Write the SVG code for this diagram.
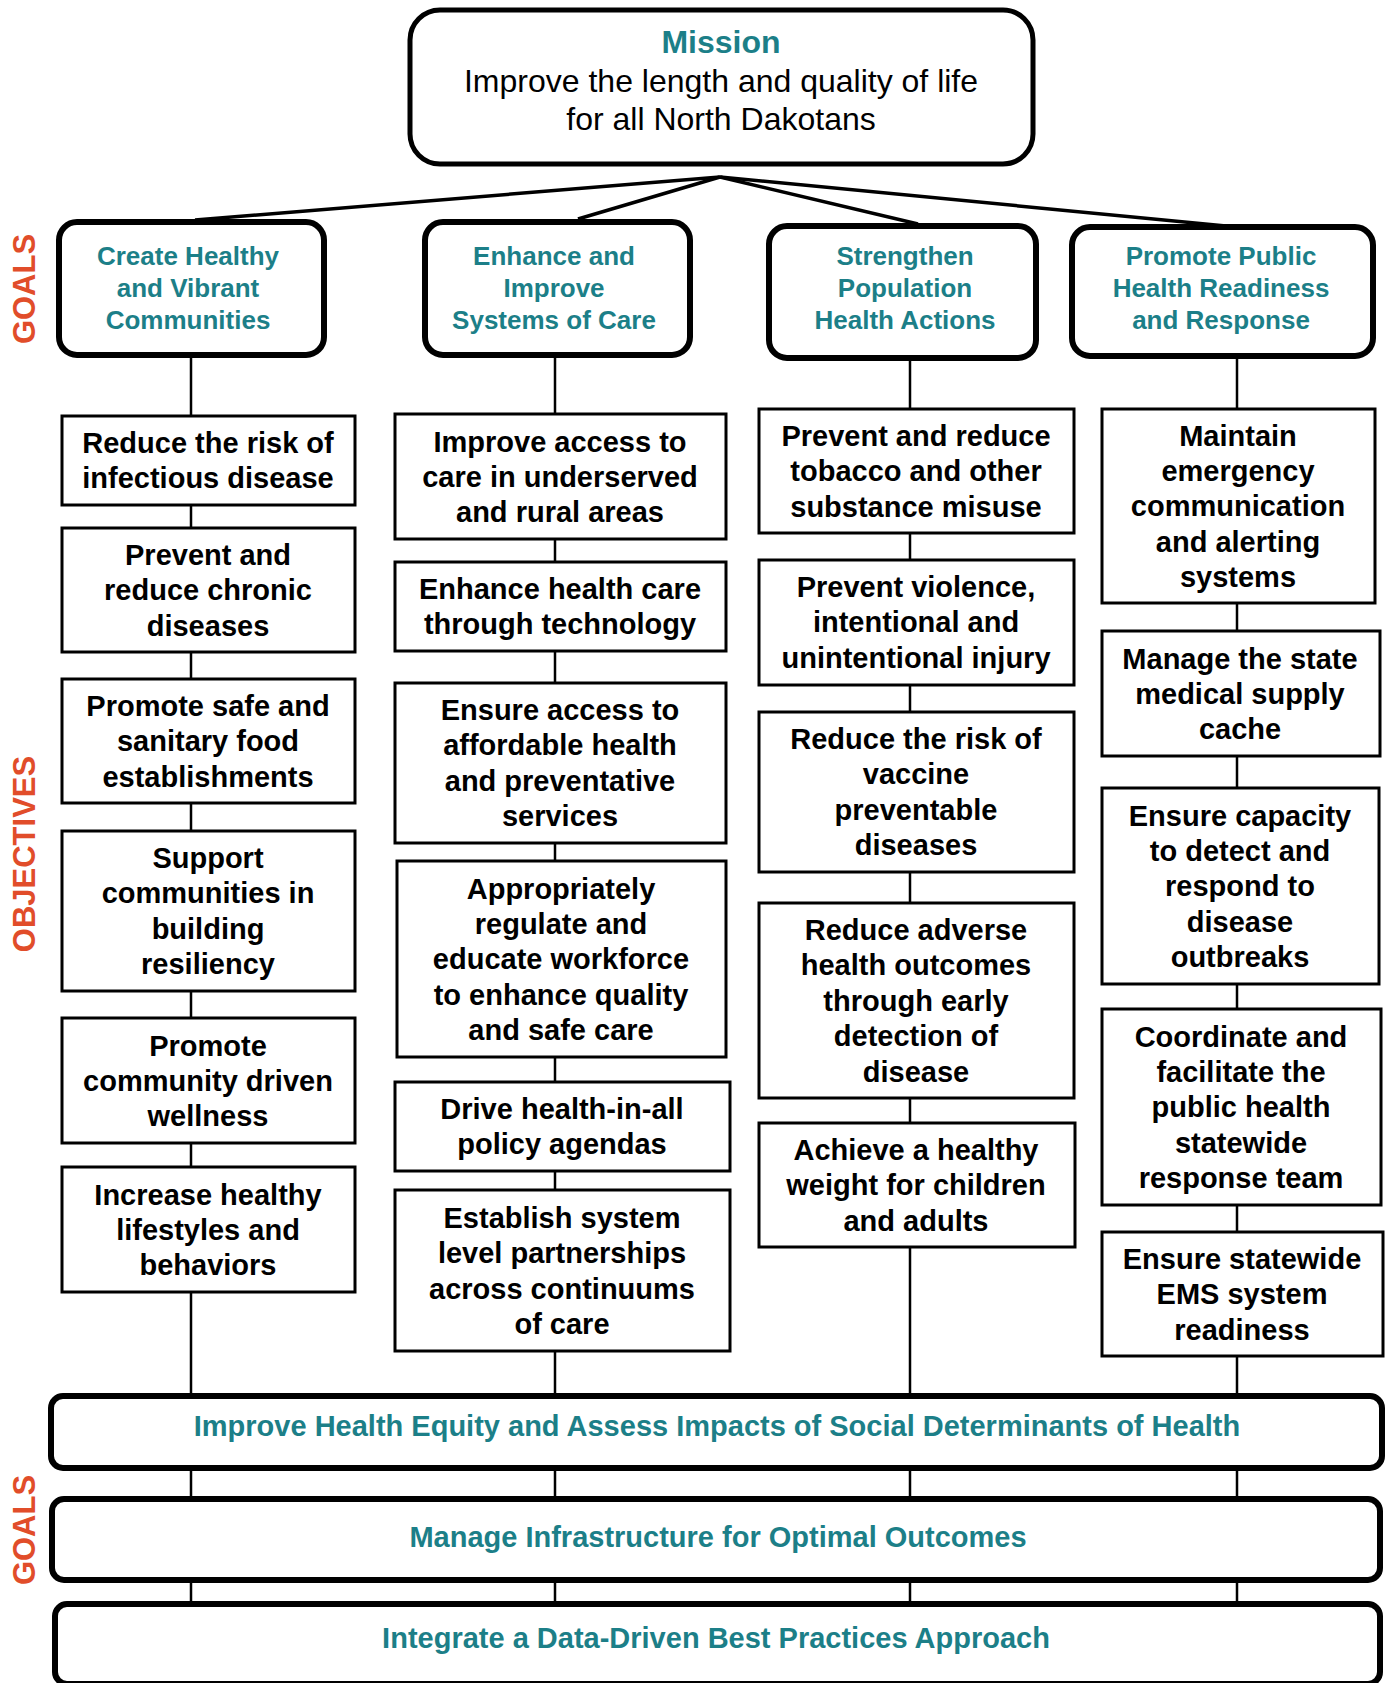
<svg xmlns="http://www.w3.org/2000/svg" width="1388" height="1683" viewBox="0 0 1388 1683">
<style>
  .conn { stroke: #000; stroke-width: 2.5; fill: none; }
  .mconn { stroke: #000; stroke-width: 3.5; fill: none; }
  .goal { fill: #fff; stroke: #000; stroke-width: 6; }
  .obj { fill: #fff; stroke: #000; stroke-width: 3; }
  .mission { fill: #fff; stroke: #000; stroke-width: 5; }
  .ot { font-family: "Liberation Sans", Arial, sans-serif; font-weight: bold; font-size: 29px; fill: #000; text-anchor: middle; }
  .gt { font-family: "Liberation Sans", Arial, sans-serif; font-weight: bold; font-size: 26px; fill: #1C7F88; text-anchor: middle; }
  .bt { font-family: "Liberation Sans", Arial, sans-serif; font-weight: bold; font-size: 29px; fill: #1C7F88; text-anchor: middle; }
  .side { font-family: "Liberation Sans", Arial, sans-serif; font-weight: bold; font-size: 31px; fill: #E14D2A; text-anchor: middle; }
  .mt { font-family: "Liberation Sans", Arial, sans-serif; font-size: 32px; fill: #000; text-anchor: middle; }
  .mh { font-family: "Liberation Sans", Arial, sans-serif; font-weight: bold; font-size: 32px; fill: #1C7F88; text-anchor: middle; }
</style>
<rect width="1388" height="1683" fill="#fff"/>

<g id="connectors">
  <line class="mconn" x1="720" y1="177" x2="195" y2="220"/>
  <line class="mconn" x1="720" y1="177" x2="578" y2="219"/>
  <line class="mconn" x1="720" y1="177" x2="918" y2="224"/>
  <line class="mconn" x1="720" y1="177" x2="1226" y2="226"/>
  <line class="conn" x1="191" y1="357" x2="191" y2="1604"/>
  <line class="conn" x1="555" y1="357" x2="555" y2="1604"/>
  <line class="conn" x1="910" y1="360" x2="910" y2="1604"/>
  <line class="conn" x1="1237" y1="358" x2="1237" y2="1604"/>
</g>

<g id="label-goals-top"><text class="side" transform="translate(35,289) rotate(-90)">GOALS</text></g>
<g id="label-objectives"><text class="side" transform="translate(35,854) rotate(-90)">OBJECTIVES</text></g>
<g id="label-goals-bottom"><text class="side" transform="translate(35,1530) rotate(-90)">GOALS</text></g>

<g id="mission">
  <rect class="mission" x="410" y="10" width="623" height="154" rx="30"/>
  <text class="mh" x="721" y="53">Mission</text>
  <text class="mt" x="721" y="92">Improve the length and quality of life</text>
  <text class="mt" x="721" y="130">for all North Dakotans</text>
</g>

<g id="goal-1">
  <rect class="goal" x="59" y="222" width="265" height="133" rx="18"/>
  <text class="gt" x="188" y="265"><tspan x="188">Create Healthy</tspan><tspan x="188" dy="32">and Vibrant</tspan><tspan x="188" dy="32">Communities</tspan></text>
</g>
<g id="goal-2">
  <rect class="goal" x="425" y="222" width="265" height="133" rx="18"/>
  <text class="gt" x="554" y="265"><tspan x="554">Enhance and</tspan><tspan x="554" dy="32">Improve</tspan><tspan x="554" dy="32">Systems of Care</tspan></text>
</g>
<g id="goal-3">
  <rect class="goal" x="769" y="226" width="267" height="132" rx="18"/>
  <text class="gt" x="905" y="265"><tspan x="905">Strengthen</tspan><tspan x="905" dy="32">Population</tspan><tspan x="905" dy="32">Health Actions</tspan></text>
</g>
<g id="goal-4">
  <rect class="goal" x="1072" y="227" width="301" height="129" rx="18"/>
  <text class="gt" x="1221" y="265"><tspan x="1221">Promote Public</tspan><tspan x="1221" dy="32">Health Readiness</tspan><tspan x="1221" dy="32">and Response</tspan></text>
</g>

<!-- Column 1 -->
<g id="obj-1-1"><rect class="obj" x="62" y="416" width="293" height="89"/>
  <text class="ot" y="453"><tspan x="208">Reduce the risk of</tspan><tspan x="208" dy="35.4">infectious disease</tspan></text></g>
<g id="obj-1-2"><rect class="obj" x="62" y="528" width="293" height="124"/>
  <text class="ot" y="565"><tspan x="208">Prevent and</tspan><tspan x="208" dy="35.4">reduce chronic</tspan><tspan x="208" dy="35.4">diseases</tspan></text></g>
<g id="obj-1-3"><rect class="obj" x="62" y="679" width="293" height="124"/>
  <text class="ot" y="716"><tspan x="208">Promote safe and</tspan><tspan x="208" dy="35.4">sanitary food</tspan><tspan x="208" dy="35.4">establishments</tspan></text></g>
<g id="obj-1-4"><rect class="obj" x="62" y="831" width="293" height="160"/>
  <text class="ot" y="868"><tspan x="208">Support</tspan><tspan x="208" dy="35.4">communities in</tspan><tspan x="208" dy="35.4">building</tspan><tspan x="208" dy="35.4">resiliency</tspan></text></g>
<g id="obj-1-5"><rect class="obj" x="62" y="1018" width="293" height="125"/>
  <text class="ot" y="1055.5"><tspan x="208">Promote</tspan><tspan x="208" dy="35.4">community driven</tspan><tspan x="208" dy="35.4">wellness</tspan></text></g>
<g id="obj-1-6"><rect class="obj" x="62" y="1167" width="293" height="125"/>
  <text class="ot" y="1204.5"><tspan x="208">Increase healthy</tspan><tspan x="208" dy="35.4">lifestyles and</tspan><tspan x="208" dy="35.4">behaviors</tspan></text></g>

<!-- Column 2 -->
<g id="obj-2-1"><rect class="obj" x="395" y="414" width="331" height="125"/>
  <text class="ot" y="451.5"><tspan x="560">Improve access to</tspan><tspan x="560" dy="35.4">care in underserved</tspan><tspan x="560" dy="35.4">and rural areas</tspan></text></g>
<g id="obj-2-2"><rect class="obj" x="395" y="562" width="331" height="89"/>
  <text class="ot" y="599"><tspan x="560">Enhance health care</tspan><tspan x="560" dy="35.4">through technology</tspan></text></g>
<g id="obj-2-3"><rect class="obj" x="395" y="683" width="331" height="160"/>
  <text class="ot" y="720"><tspan x="560">Ensure access to</tspan><tspan x="560" dy="35.4">affordable health</tspan><tspan x="560" dy="35.4">and preventative</tspan><tspan x="560" dy="35.4">services</tspan></text></g>
<g id="obj-2-4"><rect class="obj" x="397" y="861" width="329" height="196"/>
  <text class="ot" y="898.5"><tspan x="561">Appropriately</tspan><tspan x="561" dy="35.4">regulate and</tspan><tspan x="561" dy="35.4">educate workforce</tspan><tspan x="561" dy="35.4">to enhance quality</tspan><tspan x="561" dy="35.4">and safe care</tspan></text></g>
<g id="obj-2-5"><rect class="obj" x="395" y="1082" width="335" height="89"/>
  <text class="ot" y="1119"><tspan x="562">Drive health-in-all</tspan><tspan x="562" dy="35.4">policy agendas</tspan></text></g>
<g id="obj-2-6"><rect class="obj" x="395" y="1190" width="335" height="161"/>
  <text class="ot" y="1228"><tspan x="562">Establish system</tspan><tspan x="562" dy="35.4">level partnerships</tspan><tspan x="562" dy="35.4">across continuums</tspan><tspan x="562" dy="35.4">of care</tspan></text></g>

<!-- Column 3 -->
<g id="obj-3-1"><rect class="obj" x="759" y="409" width="315" height="124"/>
  <text class="ot" y="446"><tspan x="916">Prevent and reduce</tspan><tspan x="916" dy="35.4">tobacco and other</tspan><tspan x="916" dy="35.4">substance misuse</tspan></text></g>
<g id="obj-3-2"><rect class="obj" x="759" y="560" width="315" height="125"/>
  <text class="ot" y="597"><tspan x="916">Prevent violence,</tspan><tspan x="916" dy="35.4">intentional and</tspan><tspan x="916" dy="35.4">unintentional injury</tspan></text></g>
<g id="obj-3-3"><rect class="obj" x="759" y="712" width="315" height="160"/>
  <text class="ot" y="749"><tspan x="916">Reduce the risk of</tspan><tspan x="916" dy="35.4">vaccine</tspan><tspan x="916" dy="35.4">preventable</tspan><tspan x="916" dy="35.4">diseases</tspan></text></g>
<g id="obj-3-4"><rect class="obj" x="759" y="903" width="315" height="195"/>
  <text class="ot" y="940"><tspan x="916">Reduce adverse</tspan><tspan x="916" dy="35.4">health outcomes</tspan><tspan x="916" dy="35.4">through early</tspan><tspan x="916" dy="35.4">detection of</tspan><tspan x="916" dy="35.4">disease</tspan></text></g>
<g id="obj-3-5"><rect class="obj" x="759" y="1123" width="316" height="124"/>
  <text class="ot" y="1160"><tspan x="916">Achieve a healthy</tspan><tspan x="916" dy="35.4">weight for children</tspan><tspan x="916" dy="35.4">and adults</tspan></text></g>

<!-- Column 4 -->
<g id="obj-4-1"><rect class="obj" x="1102" y="409" width="273" height="194"/>
  <text class="ot" y="445.5"><tspan x="1238">Maintain</tspan><tspan x="1238" dy="35.4">emergency</tspan><tspan x="1238" dy="35.4">communication</tspan><tspan x="1238" dy="35.4">and alerting</tspan><tspan x="1238" dy="35.4">systems</tspan></text></g>
<g id="obj-4-2"><rect class="obj" x="1102" y="631" width="278" height="125"/>
  <text class="ot" y="668.5"><tspan x="1240">Manage the state</tspan><tspan x="1240" dy="35.4">medical supply</tspan><tspan x="1240" dy="35.4">cache</tspan></text></g>
<g id="obj-4-3"><rect class="obj" x="1102" y="788" width="277" height="196"/>
  <text class="ot" y="825.5"><tspan x="1240">Ensure capacity</tspan><tspan x="1240" dy="35.4">to detect and</tspan><tspan x="1240" dy="35.4">respond to</tspan><tspan x="1240" dy="35.4">disease</tspan><tspan x="1240" dy="35.4">outbreaks</tspan></text></g>
<g id="obj-4-4"><rect class="obj" x="1102" y="1009" width="279" height="196"/>
  <text class="ot" y="1046.5"><tspan x="1241">Coordinate and</tspan><tspan x="1241" dy="35.4">facilitate the</tspan><tspan x="1241" dy="35.4">public health</tspan><tspan x="1241" dy="35.4">statewide</tspan><tspan x="1241" dy="35.4">response team</tspan></text></g>
<g id="obj-4-5"><rect class="obj" x="1102" y="1232" width="281" height="124"/>
  <text class="ot" y="1269"><tspan x="1242">Ensure statewide</tspan><tspan x="1242" dy="35.4">EMS system</tspan><tspan x="1242" dy="35.4">readiness</tspan></text></g>

<!-- Bottom goals -->
<g id="goal-equity">
  <rect class="goal" x="51" y="1396" width="1331" height="72" rx="12"/>
  <text class="bt" x="717" y="1436">Improve Health Equity and Assess Impacts of Social Determinants of Health</text>
</g>
<g id="goal-infrastructure">
  <rect class="goal" x="52" y="1499" width="1328" height="81" rx="12"/>
  <text class="bt" x="718" y="1547">Manage Infrastructure for Optimal Outcomes</text>
</g>
<g id="goal-data">
  <rect class="goal" x="55" y="1604" width="1325" height="80" rx="12"/>
  <text class="bt" x="716" y="1648">Integrate a Data-Driven Best Practices Approach</text>
</g>
</svg>
